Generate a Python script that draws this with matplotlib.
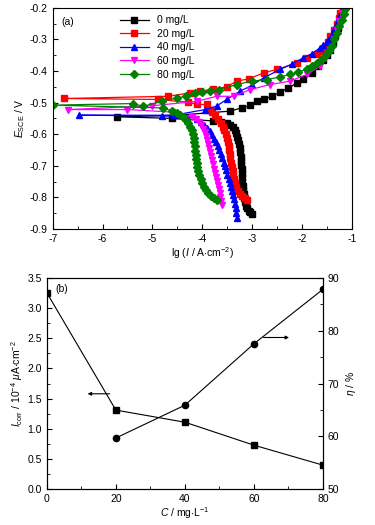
import matplotlib
matplotlib.use("Agg")
import matplotlib.pyplot as plt
from matplotlib.ticker import MultipleLocator

plt.rcParams['font.family'] = ['Liberation Sans', 'DejaVu Sans']
plt.rcParams['font.size'] = 7.5
plt.rcParams['axes.unicode_minus'] = False
plt.rcParams['mathtext.fontset'] = 'custom'
plt.rcParams['mathtext.rm'] = 'Liberation Sans'
plt.rcParams['mathtext.it'] = 'Liberation Sans:italic'

# ---- (a) polarization curves: lg(I), E ----
lg_0 = [-3.0, -3.04, -3.07, -3.1, -3.12, -3.14, -3.16, -3.17, -3.18, -3.19, -3.195, -3.2,
        -3.205, -3.21, -3.215, -3.22, -3.23, -3.24, -3.25, -3.265, -3.28, -3.3, -3.32, -3.35,
        -3.39, -3.45, -3.51, -3.62, -3.78, -4.6, -5.7, -4.5, -3.44, -3.21, -3.04, -2.91, -2.77,
        -2.6, -2.44, -2.27, -2.1, -1.97, -1.8, -1.67, -1.57, -1.5, -1.43, -1.38, -1.33, -1.28,
        -1.23, -1.2, -1.17]
e_0 = [-0.852, -0.848, -0.843, -0.835, -0.826, -0.815, -0.803, -0.79, -0.777, -0.764, -0.75, -0.737,
       -0.724, -0.71, -0.697, -0.684, -0.671, -0.658, -0.645, -0.632, -0.62, -0.608, -0.597, -0.587,
       -0.578, -0.57, -0.564, -0.56, -0.558, -0.55, -0.545, -0.54, -0.527, -0.517, -0.509, -0.496, -0.49,
       -0.48, -0.467, -0.453, -0.438, -0.424, -0.406, -0.385, -0.364, -0.35, -0.332, -0.312, -0.29, -0.265,
       -0.237, -0.22, -0.205]

lg_20 = [-3.11, -3.15, -3.2, -3.25, -3.29, -3.32, -3.34, -3.36, -3.38, -3.39, -3.41, -3.42,
         -3.44, -3.45, -3.46, -3.47, -3.49, -3.5, -3.53, -3.56, -3.59, -3.63, -3.68, -3.74,
         -3.8, -3.84, -3.91, -4.11, -4.28, -4.88, -6.77, -4.68, -4.24, -4.04, -3.78,
         -3.51, -3.31, -3.07, -2.77, -2.5, -2.1, -1.9, -1.7, -1.6, -1.53, -1.47, -1.43, -1.36,
         -1.3, -1.26, -1.23]
e_20 = [-0.807, -0.802, -0.797, -0.79, -0.78, -0.768, -0.755, -0.742, -0.729, -0.716, -0.703, -0.69,
        -0.677, -0.664, -0.651, -0.638, -0.625, -0.612, -0.6, -0.588, -0.576, -0.564, -0.552, -0.54,
        -0.53, -0.522, -0.506, -0.506, -0.499, -0.49, -0.487, -0.48, -0.469, -0.464, -0.457,
        -0.45, -0.432, -0.425, -0.406, -0.395, -0.374, -0.36, -0.345, -0.335, -0.325, -0.308, -0.29, -0.27,
        -0.25, -0.232, -0.216]

lg_40 = [-3.31, -3.32, -3.33, -3.345, -3.36, -3.38, -3.41, -3.43, -3.45, -3.47, -3.5, -3.52,
         -3.55, -3.57, -3.6, -3.63, -3.66, -3.69, -3.72, -3.76, -3.8, -3.85, -3.9, -3.96,
         -4.02, -4.1, -4.3, -4.8, -6.47, -4.57, -3.94, -3.71, -3.51, -3.24, -3.0,
         -2.77, -2.44, -2.2, -1.97, -1.8, -1.64, -1.57, -1.5, -1.45, -1.4, -1.35, -1.3, -1.25, -1.2]
e_40 = [-0.865, -0.85, -0.835, -0.82, -0.806, -0.793, -0.78, -0.767, -0.754, -0.741, -0.728, -0.715,
        -0.702, -0.69, -0.677, -0.664, -0.651, -0.638, -0.626, -0.614, -0.602, -0.59, -0.58, -0.57,
        -0.56, -0.552, -0.545, -0.542, -0.54, -0.54, -0.522, -0.511, -0.49, -0.464, -0.445,
        -0.422, -0.395, -0.378, -0.358, -0.345, -0.327, -0.318, -0.308, -0.297, -0.285, -0.268, -0.248,
        -0.228, -0.21]

lg_60 = [-3.6, -3.62, -3.64, -3.65, -3.66, -3.68, -3.7, -3.72, -3.74, -3.76, -3.78, -3.8,
         -3.82, -3.84, -3.86, -3.88, -3.9, -3.92, -3.95, -3.98, -4.02, -4.06, -4.12, -4.2,
         -4.6, -5.5, -6.69, -5.0, -4.11, -3.71, -3.37, -3.04, -2.64, -2.24,
         -1.9, -1.64, -1.53, -1.43, -1.36, -1.3, -1.25, -1.2]
e_60 = [-0.825, -0.812, -0.8, -0.787, -0.774, -0.761, -0.748, -0.735, -0.722, -0.709, -0.696, -0.683,
        -0.67, -0.657, -0.644, -0.631, -0.618, -0.606, -0.594, -0.583, -0.572, -0.562, -0.553, -0.546,
        -0.53, -0.522, -0.522, -0.51, -0.496, -0.48, -0.48, -0.459, -0.443, -0.432,
        -0.411, -0.385, -0.36, -0.332, -0.3, -0.269, -0.242, -0.216]

lg_80 = [-3.71, -3.77, -3.83, -3.88, -3.93, -3.97, -4.0, -4.03, -4.06, -4.08, -4.1, -4.11,
         -4.12, -4.13, -4.14, -4.15, -4.16, -4.17, -4.19, -4.21, -4.24, -4.28, -4.33, -4.38,
         -4.45, -4.51, -4.61, -4.78, -7.0, -5.38, -5.19, -4.81, -4.51, -4.32, -4.14,
         -4.01, -3.84, -3.67, -3.31, -3.01, -2.71, -2.44, -2.24, -2.07, -1.9, -1.8, -1.7, -1.61,
         -1.53, -1.46, -1.4, -1.35, -1.3, -1.25, -1.2, -1.16, -1.13]
e_80 = [-0.807, -0.803, -0.796, -0.787, -0.777, -0.766, -0.754, -0.742, -0.73, -0.717, -0.704, -0.691,
        -0.678, -0.665, -0.652, -0.639, -0.626, -0.613, -0.6, -0.588, -0.576, -0.565, -0.554, -0.545,
        -0.538, -0.534, -0.527, -0.517, -0.508, -0.503, -0.512, -0.496, -0.485, -0.48, -0.471,
        -0.466, -0.464, -0.459, -0.443, -0.432, -0.427, -0.419, -0.411, -0.404, -0.393, -0.384, -0.374, -0.364,
        -0.353, -0.338, -0.321, -0.3, -0.279, -0.258, -0.237, -0.22, -0.205]

series = [
    (lg_0, e_0, "0 mg/L", "black", "s"),
    (lg_20, e_20, "20 mg/L", "red", "s"),
    (lg_40, e_40, "40 mg/L", "blue", "^"),
    (lg_60, e_60, "60 mg/L", "magenta", "v"),
    (lg_80, e_80, "80 mg/L", "green", "D"),
]

# ---- (b) corrosion current and inhibition efficiency ----
conc = [0, 20, 40, 60, 80]
icorr = [3.25, 1.31, 1.11, 0.73, 0.40]
conc_eta = [20, 40, 60, 80]
eta = [59.7, 65.9, 77.5, 87.8]

fig = plt.figure(figsize=(3.75, 5.25), dpi=100)

ax1 = fig.add_axes([0.1405, 0.564, 0.7975, 0.421])
for x, y, lab, col, mk in series:
    ax1.plot(x, y, color=col, lw=0.9, marker=mk, ms=3.8, label=lab)
ax1.set_xlim(-7, -1)
ax1.set_ylim(-0.9, -0.2)
ax1.xaxis.set_major_locator(MultipleLocator(1))
ax1.xaxis.set_minor_locator(MultipleLocator(0.5))
ax1.yaxis.set_major_locator(MultipleLocator(0.1))
ax1.yaxis.set_minor_locator(MultipleLocator(0.05))
ax1.yaxis.set_major_formatter(plt.FuncFormatter(lambda v, p: f"{v:.1f}"))
ax1.tick_params(direction='in', which='both', labelsize=7.5)
ax1.tick_params(which='major', length=3.5)
ax1.tick_params(which='minor', length=2)
ax1.set_xlabel(r"lg ($\mathit{I}$ / A$\cdot$cm$^{-2}$)", fontsize=7.5, labelpad=1)
ax1.set_ylabel(r"$\mathit{E}_{\rm SCE}$ / V", fontsize=7.5, labelpad=2)
ax1.text(0.03, 0.96, "(a)", transform=ax1.transAxes, va='top', fontsize=7.5)
ax1.legend(loc='upper left', bbox_to_anchor=(0.2, 1.0), frameon=False, fontsize=7.5,
           handlelength=2.8, labelspacing=0.35, borderaxespad=0.3)

ax2 = fig.add_axes([0.125, 0.068, 0.736, 0.403])
ax2.plot(conc, icorr, color='black', lw=0.8, marker='s', ms=4)
ax2.set_xlim(0, 80)
ax2.set_ylim(0, 3.5)
ax2.xaxis.set_major_locator(MultipleLocator(20))
ax2.xaxis.set_minor_locator(MultipleLocator(10))
ax2.yaxis.set_major_locator(MultipleLocator(0.5))
ax2.yaxis.set_minor_locator(MultipleLocator(0.25))
ax2.yaxis.set_major_formatter(plt.FuncFormatter(lambda v, p: f"{v:.1f}"))
ax2.tick_params(direction='in', which='both', labelsize=7.5)
ax2.tick_params(which='major', length=3.5)
ax2.tick_params(which='minor', length=2)
ax2.set_xlabel(r"$\mathit{C}$ / mg$\cdot$L$^{-1}$", fontsize=7.5, labelpad=1)
ax2.set_ylabel(r"$\mathit{I}_{\rm corr}$ / 10$^{-4}$ $\mu$A$\cdot$cm$^{-2}$", fontsize=7.5, labelpad=2)
ax2.text(0.03, 0.97, "(b)", transform=ax2.transAxes, va='top', fontsize=7.5)
ax2.annotate("", xy=(11, 1.58), xytext=(19, 1.58),
             arrowprops=dict(arrowstyle='-|>', color='black', lw=0.8, mutation_scale=5))

ax3 = ax2.twinx()
ax3.plot(conc_eta, eta, color='black', lw=0.8, marker='o', ms=4.5)
ax3.set_ylim(50, 90)
ax3.yaxis.set_major_locator(MultipleLocator(10))
ax3.yaxis.set_minor_locator(MultipleLocator(5))
ax3.tick_params(direction='in', which='both', labelsize=7.5)
ax3.tick_params(which='major', length=3.5)
ax3.tick_params(which='minor', length=2)
ax3.set_ylabel(r"$\mathit{\eta}$ / %", fontsize=7.5, labelpad=3)
ax3.annotate("", xy=(71, 78.7), xytext=(62, 78.7),
             arrowprops=dict(arrowstyle='-|>', color='black', lw=0.8, mutation_scale=5))

fig.savefig("out.png", dpi=100)
